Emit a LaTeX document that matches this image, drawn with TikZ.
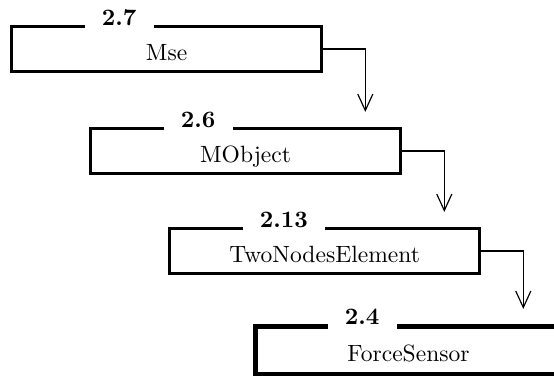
\documentclass[tikz,border=0pt]{standalone}
\usepackage{tikz}
\usetikzlibrary{arrows.meta, positioning}
\tikzstyle{classbox} = [draw=black, line width=1.3pt, anchor=north west, minimum width=131.8pt,
                        minimum height=19.1pt, text height=9.5pt, text depth=0pt, inner sep=0]
\tikzstyle{current} = [classbox, line width=2.2pt, minimum width=130pt, minimum height=20.6pt]
\tikzstyle{title} = [fill=white, anchor=base west, inner xsep=7.3pt, inner ysep=2pt, font=\bfseries]
\tikzstyle{link} = [line width=0.6pt, -{Straight Barb[length=7pt, width=6.4pt, line width=0.5pt]},
                    shorten >=6.4pt]

\begin{document}
\begin{tikzpicture}[x=0.425pt, y=-0.425pt]
					\useasboundingbox (0, 0) rectangle (554, 376);

					% Mse
					\node (Mse) [classbox] at (10, 25) {Mse};
					\node (MseTitle) [title] at ([xshift=31.5pt, yshift=-0.4pt]Mse.north west) {2.7};

					% MObject
					\node (MObject) [classbox] at (89, 127) {MObject};
					\node (MObjectTitle) [title] at ([xshift=31.5pt, yshift=-0.4pt]MObject.north west) {2.6};

					% TwoNodesElement
					\node (TwoNodes) [classbox] at (168, 227) {TwoNodesElement};
					\node (TwoNodesTitle) [title] at ([xshift=31.5pt, yshift=-0.4pt]TwoNodes.north west) {2.13};

					% ForceSensor
					\node (Force) [current] at (253, 324) {ForceSensor};
					\node (ForceTitle) [title] at ([xshift=31.5pt, yshift=-0.4pt]Force.north west) {2.4};

					% inheritance links
					\coordinate (MseBend) at ([xshift=17.9pt]Mse.east);
					\draw [link] (Mse.east) -| (MseBend |- MObject.north);

					\coordinate (MObjectBend) at ([xshift=17.9pt]MObject.east);
					\draw [link] (MObject.east) -| (MObjectBend |- TwoNodes.north);

					\coordinate (TwoNodesBend) at ([xshift=17.9pt]TwoNodes.east);
					\draw [link] (TwoNodes.east) -| (TwoNodesBend |- Force.north);
				\end{tikzpicture}
\end{document}
